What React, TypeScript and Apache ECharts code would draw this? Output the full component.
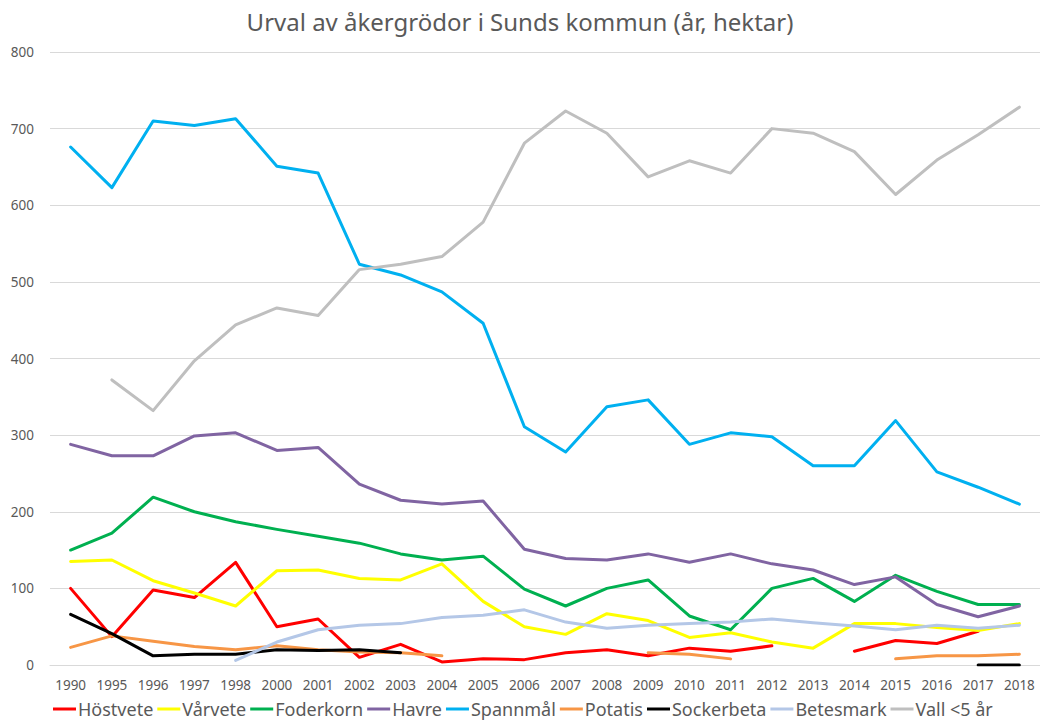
import React, { useEffect, useRef } from "react";
import * as echarts from "echarts";

const years = ["1990","1995","1996","1997","1998","2000","2001","2002","2003","2004","2005","2006","2007","2008","2009","2010","2011","2012","2013","2014","2015","2016","2017","2018"];

const hostvete = [100,37,98,88,134,50,60,10,27,4,8,7,16,20,12,22,18,25,null,18,32,28,44,null];
const varvete = [135,137,110,94,77,123,124,113,111,132,83,50,40,67,58,36,42,30,22,54,54,49,45,54];
const foderkorn = [150,172,219,200,187,177,168,159,145,137,142,99,77,100,111,64,46,100,113,83,117,96,79,79];
const havre = [288,273,273,299,303,280,284,236,215,210,214,151,139,137,145,134,145,132,124,105,115,79,63,77];
const spannmal = [676,623,710,704,713,651,642,523,509,487,446,311,278,337,346,288,303,298,260,260,319,252,232,210];
const potatis = [23,38,31,24,20,25,20,17,16,12,null,null,null,null,16,14,8,null,null,null,8,12,12,14];
const sockerbeta = [66,41,12,14,14,20,19,20,16,null,null,null,null,null,null,null,null,null,null,null,null,null,0,0];
const betesmark = [null,null,null,null,6,30,46,52,54,62,65,72,56,48,52,54,56,60,55,51,46,52,48,52];
const vall = [null,372,332,397,444,466,456,516,523,533,578,681,723,694,637,658,642,700,694,670,614,659,692,728];

const yTicks = [0, 800, 100];

const seriesDefs: [string, (number | null)[], string][] = [
  ["Höstvete", hostvete, "#FF0000"],
  ["Vårvete", varvete, "#FFFF00"],
  ["Foderkorn", foderkorn, "#00B050"],
  ["Havre", havre, "#8064A2"],
  ["Spannmål", spannmal, "#00B0F0"],
  ["Potatis", potatis, "#F79646"],
  ["Sockerbeta", sockerbeta, "#000000"],
  ["Betesmark", betesmark, "#B4C7E7"],
  ["Vall <5 år", vall, "#BFBFBF"],
];

const FONT = "'Noto Sans', 'Open Sans', sans-serif";

export default function App() {
  const ref = useRef<HTMLDivElement>(null);
  useEffect(() => {
    if (!ref.current) return;
    const chart = echarts.init(ref.current, undefined, { renderer: "svg" });
    chart.setOption({
      animation: false,
      backgroundColor: "#ffffff",
      title: {
        text: "Urval av åkergrödor i Sunds kommun (år, hektar)",
        left: "center",
        top: 4,
        textStyle: { fontFamily: FONT, fontSize: 24, fontWeight: "normal", color: "#595959" },
      },
      legend: {
        bottom: -2,
        left: 48,
        itemWidth: 23,
        itemHeight: 3,
        itemGap: 4,
        icon: "rect",
        textStyle: { fontFamily: FONT, fontSize: 18, color: "#595959", padding: [0, 0, 0, -3] },
        data: seriesDefs.map((s) => s[0]),
      },
      grid: { left: 50, right: -1, top: 52, bottom: 56, containLabel: false },
      xAxis: {
        type: "category",
        data: years,
        boundaryGap: true,
        axisLine: { show: true, lineStyle: { color: "#D9D9D9", width: 1 } },
        axisTick: { show: false },
        axisLabel: { fontFamily: FONT, fontSize: 13.5, color: "#595959", margin: 13, interval: 0 },
      },
      yAxis: {
        type: "value",
        min: yTicks[0],
        max: yTicks[1],
        interval: yTicks[2],
        axisLine: { show: false },
        axisTick: { show: false },
        splitLine: { lineStyle: { color: "#D9D9D9", width: 1 } },
        axisLabel: { fontFamily: FONT, fontSize: 13.5, color: "#595959", margin: 16 },
      },
      series: seriesDefs.map(([name, data, color]) => ({
        name,
        type: "line",
        data,
        symbol: "none",
        connectNulls: false,
        lineStyle: { color, width: 3, cap: "round", join: "round" },
        itemStyle: { color },
      })),
    });
    return () => chart.dispose();
  }, []);
  return <div ref={ref} style={{ position: "fixed", left: 0, top: 0, width: 1040, height: 721 }} />;
}
